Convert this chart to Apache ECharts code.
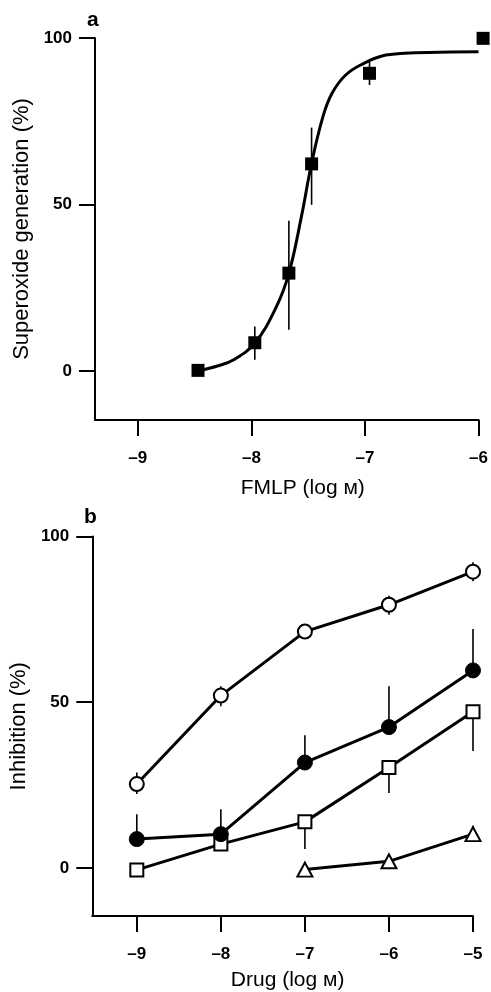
<!DOCTYPE html>
<html>
<head>
<meta charset="utf-8">
<script src="https://cdn.jsdelivr.net/npm/echarts@6/dist/echarts.min.js"></script>
<style>
html,body{margin:0;padding:0;background:#fff;}
#c{width:491px;height:992px;}
</style>
</head>
<body>
<div id="c"></div>
<script>
// ---- Panel a: FMLP concentration-response ----
const fmlpX = [-8.47, -7.97, -7.67, -7.47, -6.96, -5.96];
const fmlpY = [0.2, 8.5, 29.4, 62.2, 89.4, 99.9];
const fmlpErrLo = [null, 3.4, 12.4, 49.9, 85.9, null];
const fmlpErrHi = [null, 13.4, 45.1, 73.1, 93.0, null];
// fitted curve
const curveX = [-8.46, -8.30, -8.16, -7.97, -7.78, -7.67, -7.56, -7.47, -7.37, -7.29, -7.17, -7.01, -6.85, -6.65, -6.35, -6.00];
const curveY = [0.1, 1.5, 3.3, 8.4, 19.3, 29.3, 46.3, 62.4, 76.4, 83.4, 88.9, 92.4, 94.6, 95.4, 95.7, 95.9];
const xTicksA = [-9, -8, -7, -6];
const xTickLabelsA = ['\u20139', '\u20138', '\u20137', '\u20136'];
const yTicksA = [0, 50, 100];
const yTickLabelsA = ['0', '50', '100'];

// ---- Panel b: drug inhibition ----
const drugX = [-9, -8, -7, -6, -5];
const openCircle = [25.3, 52.0, 71.3, 79.4, 89.4];
const openCircleLo = [22.3, 48.8, 70.6, 76.4, 86.5];
const openCircleHi = [28.8, 54.8, 72.0, 82.1, 92.2];
const filledCircle = [8.7, 10.2, 31.8, 42.5, 59.6];
const filledCircleHi = [16.2, 17.7, 40.0, 54.8, 72.1];
const openSquare = [-0.6, 7.2, 13.9, 30.3, 47.1];
const openSquareLo = [null, null, 5.7, 22.6, 35.3];
const triangleX = [-7, -6, -5];
const triangle = [-0.5, 2.0, 10.2];
const triangleHi = [null, null, 12.7];
const xTicksB = [-9, -8, -7, -6, -5];
const xTickLabelsB = ['\u20139', '\u20138', '\u20137', '\u20136', '\u20135'];
const yTicksB = [0, 50, 100];
const yTickLabelsB = ['0', '50', '100'];

const FONT = 'Liberation Sans, Arial, Helvetica, sans-serif';

function pairs(xs, ys) { return xs.map((x, i) => [x, ys[i]]); }
function errData(xs, lo, hi) {
  const out = [];
  xs.forEach((x, i) => {
    const a = lo[i], b = hi[i];
    if (a == null && b == null) return;
    out.push([x, a, b]);
  });
  return out;
}
function errSeries(xi, yi, data, zz) {
  return {
    type: 'custom', xAxisIndex: xi, yAxisIndex: yi, z: zz || 1, silent: true,
    clip: false,
    data: data,
    renderItem: function (params, api) {
      const p1 = api.coord([api.value(0), api.value(1)]);
      const p2 = api.coord([api.value(0), api.value(2)]);
      return { type: 'line', shape: { x1: p1[0], y1: p1[1], x2: p2[0], y2: p2[1] },
        style: { stroke: '#000', lineWidth: 1.6 } };
    }
  };
}
function axisX(grid, min, max, ticks, labels, name, namePad, gap) {
  return {
    type: 'value', gridIndex: grid, min: min, max: max,
    splitLine: { show: false },
    axisLine: { onZero: false, lineStyle: { color: '#000', width: 2 } },
    axisTick: { show: true, inside: false, length: 16, customValues: ticks, lineStyle: { color: '#000', width: 2 } },
    axisLabel: { customValues: ticks, margin: 30, color: '#000', fontSize: 17, fontWeight: 'bold', fontFamily: FONT,
      formatter: v => labels[ticks.indexOf(v)] },
    name: name, nameLocation: 'middle', nameGap: gap,
    nameTextStyle: { color: '#000', fontSize: 21, fontFamily: FONT, padding: namePad }
  };
}
function axisY(grid, min, max, ticks, labels, name, gap) {
  return {
    type: 'value', gridIndex: grid, min: min, max: max,
    splitLine: { show: false },
    axisLine: { onZero: false, lineStyle: { color: '#000', width: 2 } },
    axisTick: { show: true, inside: false, length: 16, customValues: ticks, lineStyle: { color: '#000', width: 2 } },
    axisLabel: { customValues: ticks, margin: 23, color: '#000', fontSize: 17, fontWeight: 'bold', fontFamily: FONT,
      formatter: v => labels[ticks.indexOf(v)] },
    name: name, nameLocation: 'middle', nameGap: gap, nameRotate: 90,
    nameTextStyle: { color: '#000', fontSize: 22, fontFamily: FONT }
  };
}

const chart = echarts.init(document.getElementById('c'), null, { renderer: 'canvas' });
const lineStyle = { color: '#000', width: 3 };
chart.setOption({
  animation: false,
  backgroundColor: '#fff',
  title: [
    { text: 'a', left: 82, top: 5, textStyle: { fontSize: 21, fontWeight: 'bold', fontFamily: FONT, color: '#000' } },
    { text: 'b', left: 79, top: 502, textStyle: { fontSize: 21, fontWeight: 'bold', fontFamily: FONT, color: '#000' } }
  ],
  grid: [
    { left: 95, top: 38, right: 12, bottom: 572, containLabel: false },
    { left: 91, top: 536.5, right: 18, bottom: 75, containLabel: false }
  ],
  xAxis: [
    axisX(0, -9.377, -6, xTicksA, xTickLabelsA, 'FMLP (log \u043c)', [0, 0, 0, 32], 58),
    axisX(1, -9.53, -5, xTicksB, xTickLabelsB, 'Drug (log \u043c)', [0, 0, 0, 10], 54)
  ],
  yAxis: [
    axisY(0, -14.7, 100, yTicksA, yTickLabelsA, 'Superoxide generation (%)', 61),
    axisY(1, -14.5, 100, yTicksB, yTickLabelsB, 'Inhibition (%)', 55)
  ],
  series: [
    // panel a
    errSeries(0, 0, errData(fmlpX, fmlpErrLo, fmlpErrHi), 1),
    { type: 'line', xAxisIndex: 0, yAxisIndex: 0, data: pairs(curveX, curveY), smooth: 0.4,
      showSymbol: false, symbol: 'none', lineStyle: lineStyle, z: 2, clip: false },
    { type: 'scatter', xAxisIndex: 0, yAxisIndex: 0, data: pairs(fmlpX, fmlpY), symbol: 'rect',
      symbolSize: 13, itemStyle: { color: '#000', opacity: 1 }, z: 3, clip: false },
    // panel b
    errSeries(1, 1, errData(drugX, openCircleLo, openCircleHi), 1),
    errSeries(1, 1, errData(drugX, filledCircle, filledCircleHi), 1),
    errSeries(1, 1, errData(drugX, openSquareLo, openSquare), 1),
    errSeries(1, 1, errData(triangleX, triangle, triangleHi), 1),
    { type: 'line', xAxisIndex: 1, yAxisIndex: 1, data: pairs(drugX, openSquare), symbol: 'rect',
      symbolSize: 13, showAllSymbol: true, lineStyle: lineStyle,
      itemStyle: { color: '#fff', borderColor: '#000', borderWidth: 2 }, z: 3 },
    { type: 'line', xAxisIndex: 1, yAxisIndex: 1, data: pairs(drugX, filledCircle), symbol: 'circle',
      symbolSize: 15, showAllSymbol: true, lineStyle: lineStyle,
      itemStyle: { color: '#000', borderColor: '#000', borderWidth: 1 }, z: 4 },
    { type: 'line', xAxisIndex: 1, yAxisIndex: 1, data: pairs(drugX, openCircle), symbol: 'circle',
      symbolSize: 14, showAllSymbol: true, lineStyle: lineStyle,
      itemStyle: { color: '#fff', borderColor: '#000', borderWidth: 2 }, z: 3 },
    { type: 'line', xAxisIndex: 1, yAxisIndex: 1, data: pairs(triangleX, triangle), symbol: 'triangle',
      symbolSize: [15, 14], showAllSymbol: true, lineStyle: lineStyle,
      itemStyle: { color: '#fff', borderColor: '#000', borderWidth: 2 }, z: 3 }
  ]
});
</script>
</body>
</html>
